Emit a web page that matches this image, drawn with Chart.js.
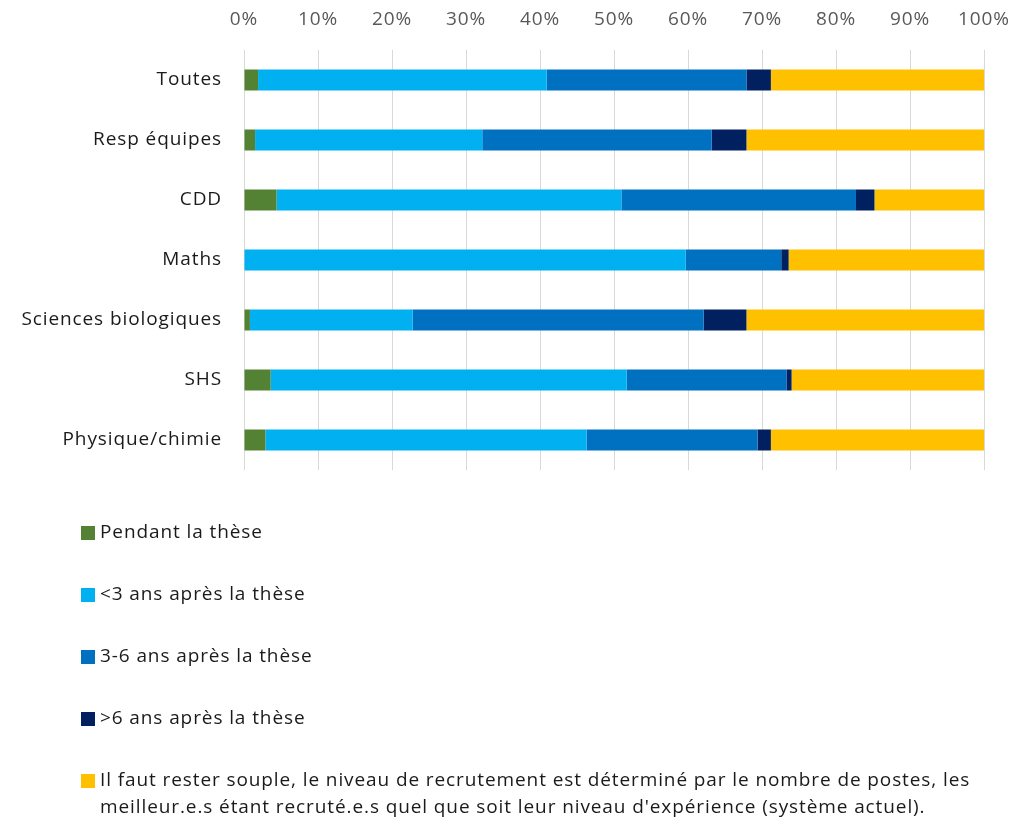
<!DOCTYPE html>
<html>
<head>
<meta charset="utf-8">
<script src="https://cdn.jsdelivr.net/npm/chart.js@4/dist/chart.umd.min.js"></script>
<style>
  body { margin: 0; background: #fff; }
  #wrap { width: 1032px; height: 824px; }
</style>
</head>
<body>
<div id="wrap"><canvas id="barChart"></canvas></div>
<script>
const categories = ["Toutes", "Resp équipes", "CDD", "Maths", "Sciences biologiques", "SHS", "Physique/chimie"];

// part des réponses (%) par groupe
const pendant = [1.9, 1.5, 4.4, 0, 0.8, 3.6, 2.9];
const moins3 = [39.0, 30.7, 46.6, 59.7, 22.0, 48.1, 43.4];
const de3a6 = [27.0, 31.0, 31.7, 12.9, 39.3, 21.6, 23.1];
const plus6 = [3.3, 4.7, 2.5, 1.0, 5.8, 0.7, 1.8];
const souple = [28.8, 32.1, 14.8, 26.4, 32.1, 26.0, 28.8];

const seriesNames = [
  "Pendant la thèse",
  "<3 ans après la thèse",
  "3-6 ans après la thèse",
  ">6 ans après la thèse",
  "Il faut rester souple, le niveau de recrutement est déterminé par le nombre de postes, les\nmeilleur.e.s étant recruté.e.s quel que soit leur niveau d'expérience (système actuel)."
];
const tickValues = [0, 10, 20, 30, 40, 50, 60, 70, 80, 90, 100];

const FONT = "'Open Sans', 'Noto Sans', sans-serif";

// slightly spaced letters, like the original export
const spacing = {
  id: "spacing",
  beforeDraw(chart) { chart.ctx.letterSpacing = "0.9px"; }
};

// legend drawn as a vertical list under the plot
const listLegend = {
  id: "listLegend",
  afterDraw(chart) {
    const ctx = chart.ctx;
    const top = chart.chartArea.bottom + 63;
    ctx.save();
    ctx.font = "19px " + FONT;
    ctx.textBaseline = "middle";
    ctx.textAlign = "left";
    chart.data.datasets.forEach((ds, i) => {
      const y = top + i * 62;
      ctx.fillStyle = ds.backgroundColor;
      ctx.fillRect(81, y - 7, 14, 14);
      ctx.fillStyle = "#1a1a1a";
      ds.label.split("\n").forEach((line, j) => {
        ctx.fillText(line, 100, y + j * 27);
      });
    });
    ctx.restore();
  }
};

const colors = ["#548235", "#00B0F0", "#0070C0", "#002060", "#FFC000"];
const values = [pendant, moins3, de3a6, plus6, souple];

new Chart(document.getElementById("barChart"), {
  type: "bar",
  data: {
    labels: categories,
    datasets: values.map((v, i) => ({
      label: seriesNames[i],
      data: v,
      backgroundColor: colors[i],
      borderWidth: 0,
      barPercentage: 0.35,
      categoryPercentage: 1
    }))
  },
  options: {
    indexAxis: "y",
    responsive: true,
    maintainAspectRatio: false,
    animation: false,
    layout: { padding: { left: 0, right: 48, top: 0, bottom: 354 } },
    plugins: {
      legend: { display: false },
      tooltip: { enabled: false }
    },
    scales: {
      x: {
        position: "top",
        stacked: true,
        min: 0,
        max: 100,
        afterBuildTicks(scale) {
          scale.ticks = tickValues.map(v => ({ value: v }));
        },
        afterFit(scale) { scale.height = 50; },
        ticks: {
          color: "#595959",
          font: { family: FONT, size: 19 },
          padding: 19,
          callback: v => v + "%"
        },
        grid: { color: "#d9d9d9", drawTicks: false },
        border: { display: false }
      },
      y: {
        stacked: true,
        afterFit(scale) { scale.width = 244; },
        ticks: {
          color: "#1a1a1a",
          font: { family: FONT, size: 19 },
          padding: 14
        },
        grid: { display: false },
        border: { display: false }
      }
    }
  },
  plugins: [spacing, listLegend]
});
</script>
</body>
</html>
